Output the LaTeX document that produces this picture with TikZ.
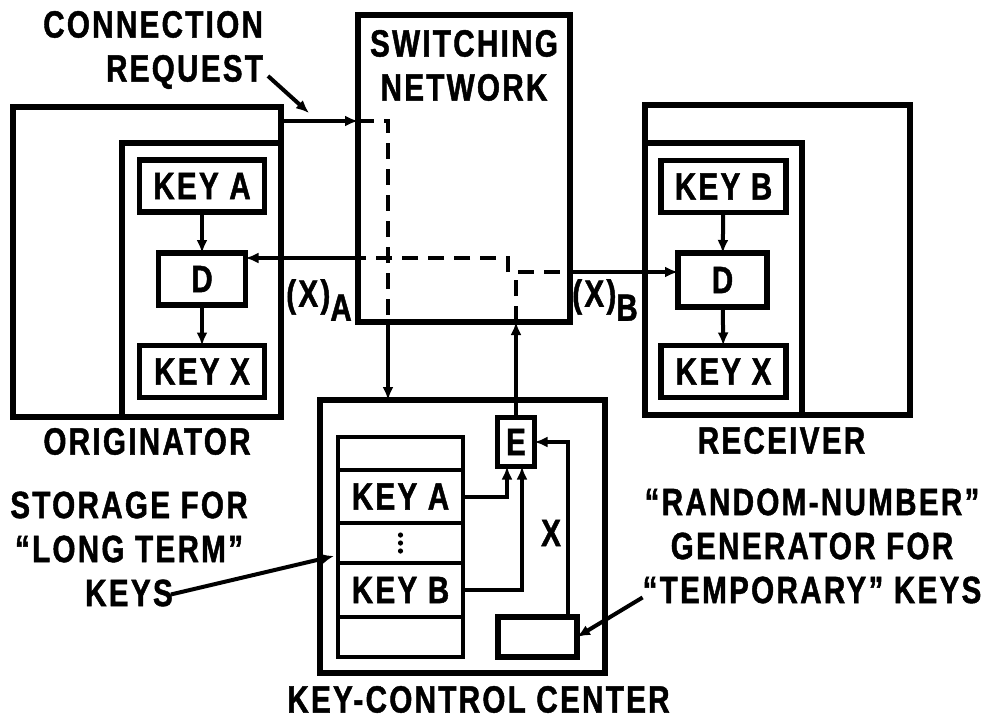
\documentclass[tikz,border=0pt]{standalone}
\usepackage{fontspec}
\newfontfamily\labelfont{Liberation Sans}[FakeStretch=0.78,LetterSpace=6,FakeBold=1.2]
\usepackage{tikz}
\usetikzlibrary{positioning,arrows.meta}

\begin{document}
\begin{tikzpicture}[x=1pt,y=-1pt,
		>={Latex[length=13pt,width=11pt]},
		every node/.style={font=\labelfont\bfseries\fontsize{38}{44}\selectfont, inner sep=0pt, outer sep=0pt},
		box/.style={draw, line width=5.5pt},
		keybox/.style={box, minimum width=125pt, minimum height=52pt},
		slot/.style={draw, line width=4.5pt, minimum width=125pt},
		wire/.style={line width=4pt},
		dashwire/.style={line width=4.5pt, dash pattern=on 16pt off 10pt}]
				\useasboundingbox (0,0) rectangle (993,725);
				% originator
				\node[box, minimum width=268pt, minimum height=310pt] (orig) at (147,262) {};
				\node[box, minimum width=159pt, minimum height=274pt] (origin) at (201.5,280) {};
				\node[keybox] (keyA) at (202,186) {KEY A};
				\node[box, minimum width=87pt, minimum height=52pt] (dA) at (202,279) {D};
				\node[keybox] (keyXA) at (202,371.5) {KEY X};
				\draw[wire,->] (keyA) -- (dA);
				\draw[wire,->] (dA) -- (keyXA);
				\node[below=11pt of orig] (origlbl) {ORIGINATOR};
				% receiver
				\node[box, minimum width=265pt, minimum height=310pt] (rec) at (777.5,260) {};
				\node[box, minimum width=157pt, minimum height=272pt] (recin) at (723.5,279) {};
				\node[keybox] (keyB) at (723.5,186.5) {KEY B};
				\node[box, minimum width=89pt, minimum height=54pt] (dB) at (722.5,280) {D};
				\node[keybox] (keyXB) at (723.5,371.5) {KEY X};
				\draw[wire,->] (keyB) -- (dB);
				\draw[wire,->] (dB) -- (keyXB);
				\node[below=12pt of rec, xshift=4pt] (reclbl) {RECEIVER};
				% switching network
				\node[box, minimum width=212pt, minimum height=307pt] (swn) at (464,168.5) {};
				\node[align=center, anchor=north] (swnlbl) at (464,30) {SWITCHING\\NETWORK};
				% key-control center
				\node[box, minimum width=285pt, minimum height=273pt] (kcc) at (462.5,536.5) {};
				\node[below=13pt of kcc, xshift=16pt] (kcclbl) {KEY-CONTROL CENTER};
				\node[slot, minimum height=33pt] (s0) at (400.5,453.5) {};
				\node[slot, minimum height=53pt, below=0pt of s0] (keyAs) {KEY A};
				\node[slot, minimum height=40pt, below=0pt of keyAs] (dots) {};
				\node[slot, minimum height=54pt, below=0pt of dots] (keyBs) {KEY B};
				\node[slot, minimum height=40pt, below=0pt of keyBs] (s4) {};
				\foreach \dy in {-8,0,8}
					\fill ([yshift=\dy pt]dots.center) circle (2.6pt);
				\node[box, line width=4.5pt, minimum width=37pt, minimum height=49pt] (E) at (516,442) {E};
				\node[box, minimum width=79pt, minimum height=40pt] (gen) at (537.5,637) {};
				\draw[wire,->] (keyAs.east) -| ([xshift=-9pt]E.south);
				\draw[wire,->] (keyBs.east) -| ([xshift=6pt]E.south);
				\draw[wire,->] ([xshift=30pt]gen.north) |- (E.east);
				\node (xlbl) at (551,533) {X};
				% connection request
				\coordinate (reqS) at (358,121);
				\coordinate (reqT) at (388,121);
				\draw[wire,->] (orig.east |- reqS) -- (reqS);
				\draw[dashwire] (reqS) -- (reqT) -- (reqT |- swn.south);
				\draw[wire,->] (reqT |- swn.south) -- (reqT |- kcc.north);
				% key X out of E
				\coordinate (eTop) at (E.north |- swn.south);
				\coordinate (fork) at (516,272);
				\coordinate (bend) at (508,258);
				\draw[wire,->] (E.north) -- (eTop);
				\draw[dashwire] (eTop) -- (fork) -- (fork -| swn.east);
				\draw[wire,->] (fork -| swn.east) -- (fork -| dB.west);
				\draw[dashwire] (fork -| bend) -- (bend) -- (bend -| swn.west);
				\draw[wire,->] (bend -| swn.west) -- (bend -| dA.east);
				\node (xa) at (319,300) {(X)\raisebox{-14pt}{A}};
				\node (xb) at (605,300) {(X)\raisebox{-14pt}{B}};
				% labels with pointers
				\node[align=right, anchor=east] (reqlbl) at (263,50) {CONNECTION\\REQUEST};
				\coordinate (reqtip) at (309,113);
				\draw[wire,->] ([xshift=5pt,yshift=-26pt]reqlbl.east) -- (reqtip);
				\node[align=center] (storlbl) at (129,549) {STORAGE FOR\\“LONG TERM”\\KEYS};
				\coordinate (stortip) at (334,556);
				\draw[wire,->] ([xshift=42pt,yshift=12pt]storlbl.south) -- (stortip);
				\node[align=center] (genlbl) at (812,546) {“RANDOM-NUMBER”\\GENERATOR FOR\\“TEMPORARY” KEYS};
				\draw[wire,->] ([yshift=6pt]genlbl.south west) -- (gen.east);
			\end{tikzpicture}
\end{document}
